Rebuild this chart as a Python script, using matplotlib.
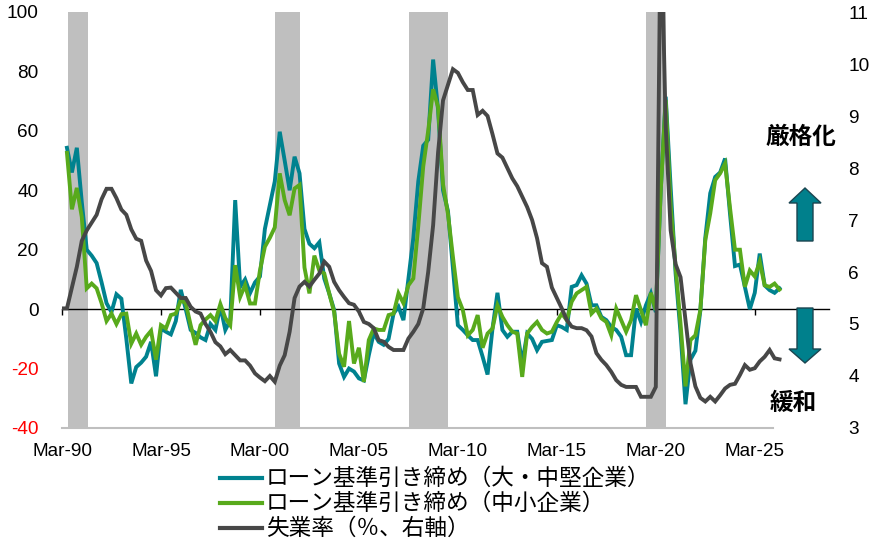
import numpy as np
import matplotlib
matplotlib.use('Agg')
import matplotlib.pyplot as plt
from matplotlib.lines import Line2D
from matplotlib.patches import Polygon

plt.rcParams['font.family'] = ['Liberation Sans', 'Noto Sans CJK JP', 'DejaVu Sans']
plt.rcParams['axes.unicode_minus'] = False

# ---------------- data (quarterly, index 0 = Mar-90) ----------------
tick_labels = ['Mar-90', 'Mar-95', 'Mar-00', 'Mar-05', 'Mar-10', 'Mar-15', 'Mar-20', 'Mar-25']
tick_pos = [0, 20, 40, 60, 80, 100, 120, 140]

large_mid = [54.3, 46, 54.3, 36, 20, 18, 15.5, 9, 2, -1,
             5, 3.5, -10, -25, -19.5, -18, -16, -11, -22.6, -6.5,
             -7.6, -8.5, -4, 6.5, 0, -7, -8, -9.5, -10.4, -5,
             -7, 1, -7, -3.7, 36.7, 7.5, 10, 5.4, 9, 11,
             27, 35, 43, 59.7, 50, 40, 51.3, 45.7, 27, 22,
             20.5, 22.5, 10.3, 5.3, -0.3, -18.3, -22.8, -20, -21, -23.3,
             -24, -15.5, -8, -11, -12, -10, -1.5, 0.8, -3.7, 10,
             24, 43, 55, 57, 84, 67, 40, 33, 14, -5.4,
             -7, -8.8, -10.4, -10.4, -16, -22, -6.5, 5.5, -7, -9.3,
             -7.6, -7.6, -18.3, -8.2, -10, -13.8, -11, -10.7, -10.4, -5.4,
             -6, -7, 7.5, 8.1, 11.4, 8.6, 1.3, 1.3, -2.6, -3.7,
             -6, -7, -9.3, -15.5, -15.5, 0.2, -4.3, 1.3, 5.3, -1,
             40, 71.5, 41, 12, -8, -32, -17, -14, -0.5, 24,
             39, 44.5, 46, 50.7, 32, 14.5, 15, 7.5, 0, 5.5,
             18.7, 8, 6.4, 5.5, 7]

small = [52.6, 33.6, 40.8, 31, 7, 8.6, 7, 2, -4, -1.5,
         -5, -1.7, -1.5, -11.6, -8.2, -12, -9.3, -7.3, -17, -5.4,
         -6.5, -2, -1.5, 3, 2, -5.4, -12, -5.4, -3.5, -2,
         -4, 1.7, -3, -5.4, 14.8, 4.1, 8.1, 1.9, 1.9, 13,
         21, 24, 27.5, 45.7, 36.7, 31.6, 40.6, 41.8, 14, 5.3,
         18, 13, 12, 5.3, -1, -15, -19.4, -4, -18.3, -13,
         -24.5, -10.4, -6.5, -7, -7, -2, -1.5, 5.3, 2, 8,
         10.3, 28, 48, 60, 74, 68, 42, 32, 17.6, 4,
         -0.3, -8.8, -7, -2, -13, -8.2, -6.5, 1.3, -2.6, -5.4,
         -7.6, -8.2, -22.8, -8.2, -6, -4.3, -7, -8.2, -7.6, -4.3,
         -1.5, -3.7, 2.5, 5.3, 6.4, 7.5, -1.5, 0.2, -3.1, -4.3,
         -8.8, 0.2, -3.7, -7.6, -3.7, 4.7, -0.3, -5.4, 5.5, -0.3,
         40, 70.4, 35, 14, -5, -26, -10.4, -8.8, -0.3, 23.2,
         32.2, 43.4, 45.7, 49, 34, 20, 20, 7.5, 13, 11,
         16, 8, 7.5, 8.6, 6.6]

unemployment = [5.3, 5.3, 5.7, 6.1, 6.6, 6.8, 6.95, 7.1, 7.4, 7.6,
                7.6, 7.42, 7.2, 7.1, 6.82, 6.64, 6.6, 6.22, 6.02, 5.65,
                5.55, 5.69, 5.7, 5.6, 5.5, 5.5, 5.33, 5.24, 5.2, 5.0,
                4.85, 4.65, 4.57, 4.42, 4.5, 4.4, 4.3, 4.3, 4.2, 4.05,
                3.97, 3.9, 4.0, 3.89, 4.2, 4.4, 4.85, 5.5, 5.72, 5.81,
                5.72, 5.85, 5.97, 6.2, 6.1, 5.81, 5.65, 5.52, 5.4, 5.37,
                5.24, 5.04, 5.0, 4.92, 4.69, 4.66, 4.56, 4.5, 4.5, 4.5,
                4.72, 4.85, 5.0, 5.3, 6.0, 6.9, 8.3, 9.3, 9.6, 9.9,
                9.83, 9.65, 9.5, 9.5, 9.02, 9.1, 9.0, 8.65, 8.28, 8.2,
                8.0, 7.8, 7.65, 7.45, 7.25, 7.0, 6.65, 6.17, 6.1, 5.7,
                5.5, 5.3, 5.08, 4.95, 4.92, 4.92, 4.88, 4.76, 4.44, 4.31,
                4.21, 4.08, 3.92, 3.83, 3.79, 3.79, 3.79, 3.6, 3.6, 3.6,
                3.79, 13.0, 8.8, 6.8, 6.15, 5.9, 5.08, 4.25, 3.8, 3.58,
                3.51, 3.6, 3.51, 3.63, 3.76, 3.83, 3.85, 4.02, 4.21, 4.12,
                4.15, 4.28, 4.37, 4.5, 4.34, 4.32]

recessions = [(1.2, 5.25), (43.0, 48.1), (70.1, 78.0), (118.0, 122.0)]

left_ticks = [-40, -20, 0, 20, 40, 60, 80, 100]
right_ticks = [3, 4, 5, 6, 7, 8, 9, 10, 11]

series_labels = ['ローン基準引き締め（大・中堅企業）',
                 'ローン基準引き締め（中小企業）',
                 '失業率（％、右軸）']

# ---------------- style ----------------
TEAL = '#00828F'
GREEN = '#58AA1C'
DARK = '#474747'
SHADE = '#BFBFBF'
CJK = ['Noto Sans CJK JP', 'DejaVu Sans']

W, H = 882, 542
fig = plt.figure(figsize=(W / 100, H / 100), dpi=100)
ax = fig.add_axes([62 / W, 1 - 428 / H, 767 / W, 416 / H])

x_sloos = np.arange(1, 1 + len(large_mid))
x_small = np.arange(1, 1 + len(small))
x_u = np.arange(len(unemployment))

for a, b in recessions:
    ax.axvspan(a, b, color=SHADE, lw=0, zorder=0.5)

ax.plot(x_sloos, large_mid, color=TEAL, lw=2.8, zorder=2, solid_joinstyle='miter')
ax.plot(x_small, small, color=GREEN, lw=2.8, zorder=3, solid_joinstyle='miter')

ax.set_xlim(0, 155)
ax.set_ylim(-40, 100)
for s in ax.spines.values():
    s.set_visible(False)
ax.axhline(-40, xmin=0, xmax=0.927, color=SHADE, lw=1.5, clip_on=False, zorder=0.6)

ax.set_xticks(tick_pos, labels=tick_labels)
ax.tick_params(axis='x', length=0, pad=11, labelsize=13.7)
ax.set_yticks(left_ticks)
ax.tick_params(axis='y', length=0, pad=17, labelsize=13.7)
for lab, v in zip(ax.get_yticklabels(), left_ticks):
    lab.set_color('#FF0000' if v < 0 else 'black')

# zero line with tick marks
sec = ax.secondary_xaxis(40 / 140)
sec.set_xticks(tick_pos)
sec.tick_params(axis='x', direction='out', length=4, width=1.0, color='black',
                labelbottom=False, labeltop=False)
for s in sec.spines.values():
    s.set_color('black')
    s.set_linewidth(1.0)
sec.set_zorder(1.5)

# right axis
ax2 = ax.twinx()
ax2.plot(x_u, unemployment, color=DARK, lw=2.8, solid_joinstyle='miter')
ax2.set_ylim(3, 11)
ax2.set_yticks(right_ticks)
ax2.tick_params(axis='y', length=0, pad=14, labelsize=13.7)
for s in ax2.spines.values():
    s.set_visible(False)

# annotations
def fx(px):
    return px / W

def fy(py):
    return 1 - py / H

fig.text(fx(801), fy(136.5), '厳格化', ha='center', va='center', fontsize=17,
         fontweight='bold', family=CJK)
fig.text(fx(793), fy(403), '緩和', ha='center', va='center', fontsize=17,
         fontweight='bold', family=CJK)

up = [(805, 188), (821, 203), (813, 203), (813, 241), (797, 241), (797, 203), (789, 203)]
down = [(797, 308), (813, 308), (813, 349), (821, 349), (805, 363), (789, 349), (797, 349)]
for pts in (up, down):
    fig.add_artist(Polygon([(fx(px), fy(py)) for px, py in pts], closed=True,
                           facecolor='#00808C', edgecolor='#1B4550', lw=1.0,
                           transform=fig.transFigure))

# legend
for k, (lab, col) in enumerate(zip(series_labels, [TEAL, GREEN, DARK])):
    yy = 478 + 25 * k
    fig.add_artist(Line2D([fx(220), fx(262)], [fy(yy), fy(yy)], color=col, lw=3,
                          transform=fig.transFigure))
    fig.text(fx(266), fy(yy), lab, ha='left', va='center', fontsize=16.3, family=CJK)

fig.savefig('out.png', dpi=100)
